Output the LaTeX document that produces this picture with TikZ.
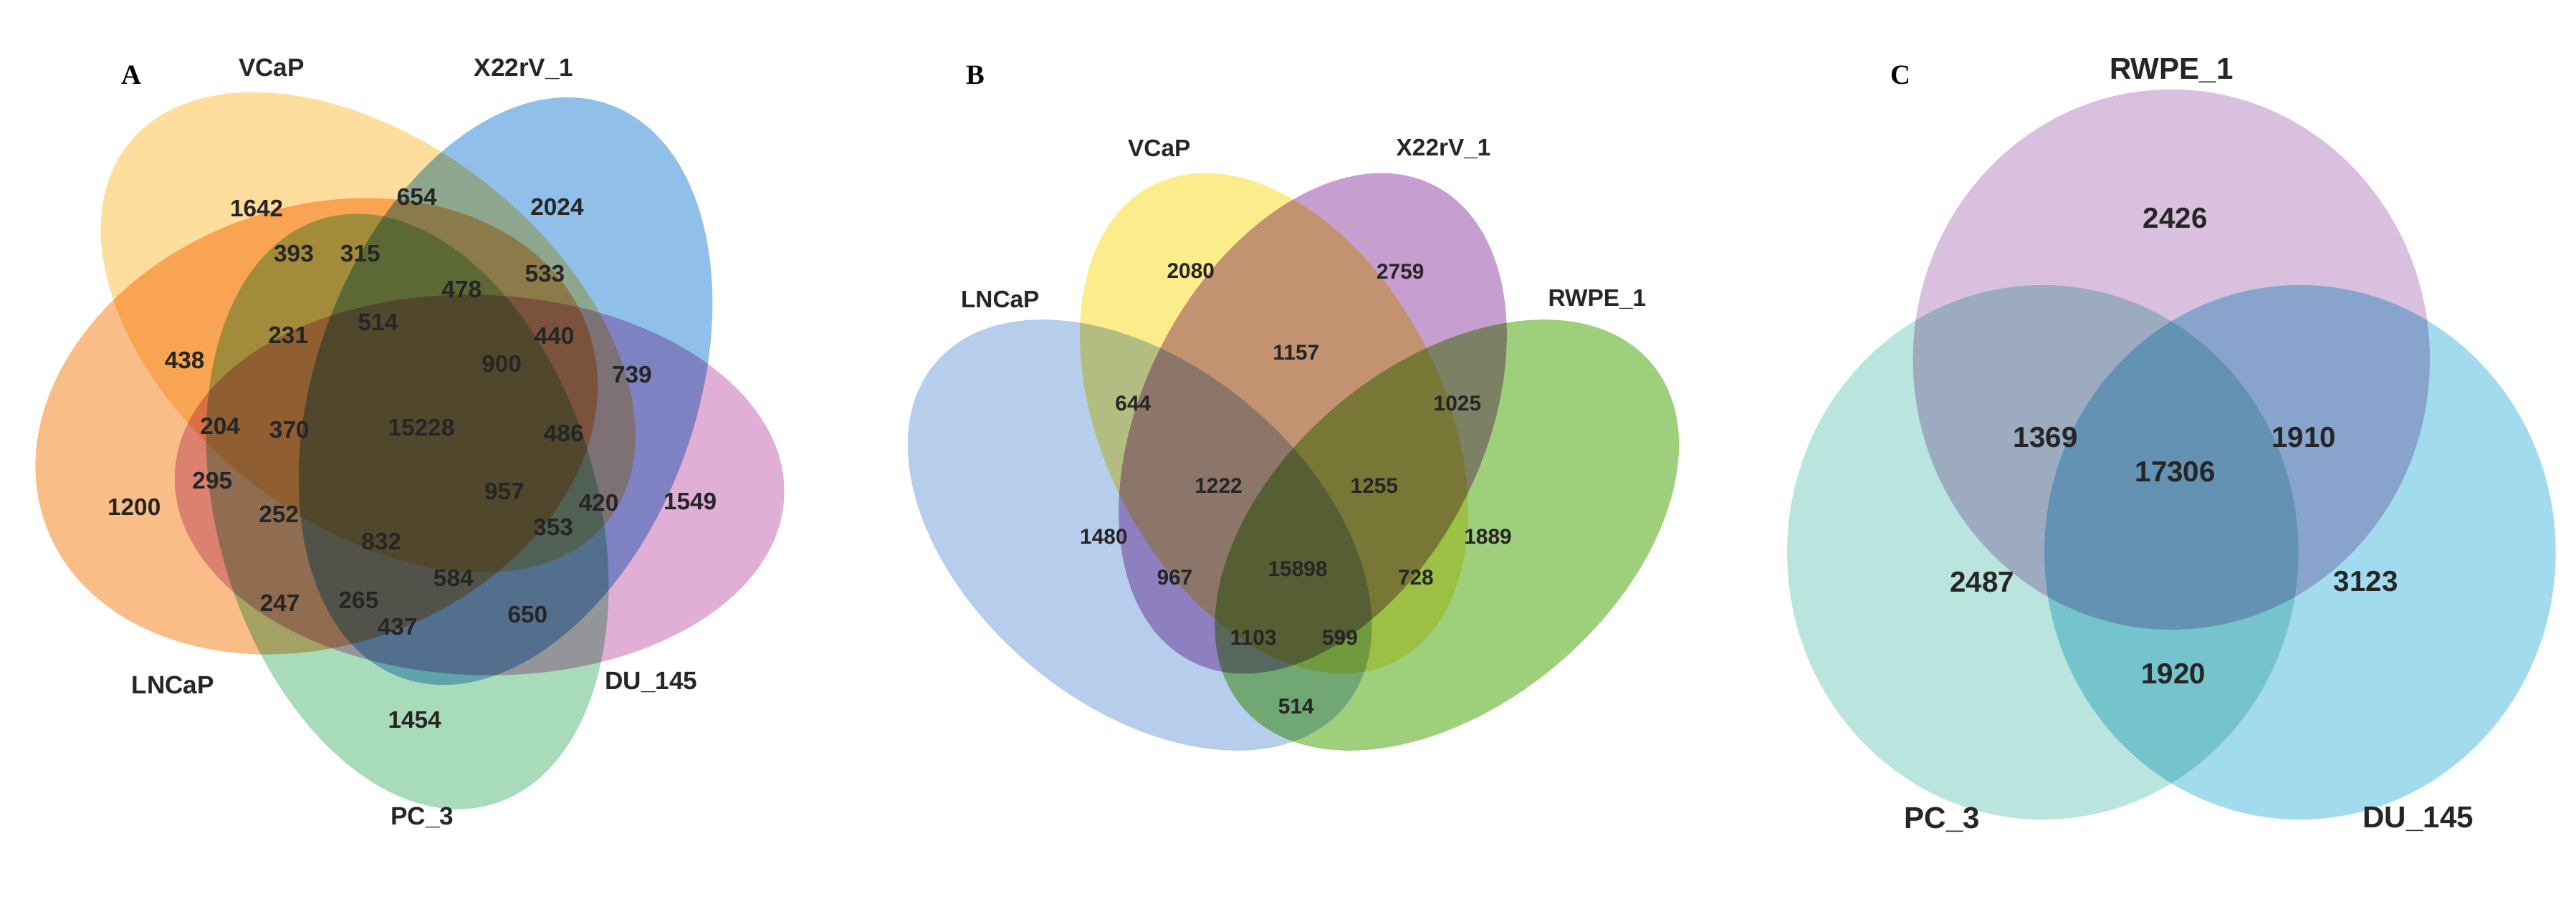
\documentclass[tikz,border=0pt]{standalone}
\usepackage{fontspec}
\setmainfont{Liberation Sans}
\newfontfamily\serifbf{Liberation Serif}
\definecolor{cyel}{RGB}{252,200,90}
\definecolor{cblu}{RGB}{70,150,220}
\definecolor{cpnk}{RGB}{205,120,185}
\definecolor{cgrn}{RGB}{110,195,140}
\definecolor{corg}{RGB}{248,145,55}
\definecolor{bblu}{RGB}{140,175,225}
\definecolor{byel}{RGB}{250,225,70}
\definecolor{bpur}{RGB}{165,100,180}
\definecolor{bgrn}{RGB}{100,180,45}
\definecolor{clil}{RGB}{190,150,200}
\definecolor{ctea}{RGB}{140,210,200}
\definecolor{csky}{RGB}{100,195,225}
\tikzset{
 setA/.style={fill=#1,fill opacity=0.6,blend mode=multiply},
 setB/.style={fill=#1,fill opacity=0.62,blend mode=multiply},
 setC/.style={fill=#1,fill opacity=0.6,blend mode=multiply},
 numA/.style={font=\bfseries\fontsize{9.5}{10}\selectfont,text=black!85},
 labA/.style={font=\bfseries\fontsize{10}{11}\selectfont,text=black!85},
 numB/.style={font=\bfseries\fontsize{8.5}{9}\selectfont,text=black!85},
 labB/.style={font=\bfseries\fontsize{9.5}{10}\selectfont,text=black!85},
 numC/.style={font=\bfseries\fontsize{11.5}{12}\selectfont,text=black!85},
 labC/.style={font=\bfseries\fontsize{12}{13}\selectfont,text=black!85},
 panel/.style={font=\serifbf\bfseries\fontsize{11}{12}\selectfont}
}
\begin{document}
\begin{tikzpicture}
\fill[white] (0,0) rectangle (35.95,12.61);
\useasboundingbox (0,0) rectangle (35.95,12.61);
% ---------- Panel A
\begin{scope}[shift={(0,12.61)},x=0.007742cm,y=0.00804cm]
\path[setA=corg,rotate around={20:(571,-740)}] (571,-740) ellipse [x radius=520,y radius=380];
\path[setA=cyel,rotate around={142:(664,-577)}] (664,-577) ellipse [x radius=550,y radius=330];
\path[setA=cblu,rotate around={70:(912,-679)}] (912,-679) ellipse [x radius=550,y radius=330];
\path[setA=cpnk,rotate around={-2:(865,-842)}] (865,-842) ellipse [x radius=550,y radius=330];
\path[setA=cgrn,rotate around={106:(735,-888)}] (735,-888) ellipse [x radius=550,y radius=330];
\node[panel] (pA) at (237,-130) {A};
\node[labA] (lVCaP) at (490,-118) {VCaP};
\node[labA] (lX22) at (945,-120) {X22rV\_1};
\node[labA] (lLNC) at (312,-1190) {LNCaP};
\node[labA] (lDU) at (1175,-1185) {DU\_145};
\node[labA] (lPC) at (762,-1420) {PC\_3};
\foreach \t/\x/\y [count=\i] in {1642/463/362,654/752/342,2024/1005/360,393/530/440,315/650/440,533/983/475,478/833/503,514/682/560,231/520/582,440/1000/583,438/333/625,900/905/632,739/1140/650,204/397/740,370/522/746,15228/760/742,486/1017/753,295/383/835,957/910/853,420/1080/873,1549/1245/870,1200/242/880,252/503/893,353/998/915,832/688/940,584/818/1003,247/505/1047,265/647/1042,437/717/1088,650/952/1067,1454/748/1250}
  \node[numA] (a\i) at (\x,-\y) {\t};
\end{scope}
% ---------- Panel B
\begin{scope}[shift={(12,12.61)},x=0.007742cm,y=0.00804cm]
\path[setB=bblu,rotate around={-40:(505,-929)}] (505,-929) ellipse [x radius=482,y radius=295];
\path[setB=byel,rotate around={-63:(747,-735)}] (747,-735) ellipse [x radius=482,y radius=295];
\path[setB=bpur,rotate around={63:(817,-735)}] (817,-735) ellipse [x radius=482,y radius=295];
\path[setB=bgrn,rotate around={40:(1059,-929)}] (1059,-929) ellipse [x radius=482,y radius=295];
\node[panel] (pB) at (208,-130) {B};
\node[labB] (bVCaP) at (540,-258) {VCaP};
\node[labB] (bX22) at (1053,-258) {X22rV\_1};
\node[labB] (bLNC) at (253,-520) {LNCaP};
\node[labB] (bRW) at (1330,-520) {RWPE\_1};
\foreach \t/\x/\y [count=\i] in {2080/597/470,2759/975/472,1157/787/612,644/493/700,1025/1078/700,1222/647/843,1255/928/843,1480/440/932,1889/1133/932,967/568/1002,15898/790/988,728/1003/1002,1103/710/1107,599/866/1107,514/787/1227}
  \node[numB] (b\i) at (\x,-\y) {\t};
\end{scope}
% ---------- Panel C
\begin{scope}[shift={(24,12.61)},x=0.00771cm,y=0.00805cm]
\path[setC=clil] (818,-623) ellipse [x radius=468,y radius=468];
\path[setC=ctea] (585,-957) ellipse [x radius=463,y radius=463];
\path[setC=csky] (1051,-957) ellipse [x radius=463,y radius=463];
\node[panel] (pC) at (328,-130) {C};
\node[labC] (cRW) at (818,-122) {RWPE\_1};
\node[labC] (cPC) at (403,-1420) {PC\_3};
\node[labC] (cDU) at (1265,-1420) {DU\_145};
\foreach \t/\x/\y [count=\i] in {2426/825/378,1369/590/758,1910/1058/758,17306/825/818,2487/475/1008,3123/1170/1008,1920/822/1168}
  \node[numC] (c\i) at (\x,-\y) {\t};
\end{scope}
\end{tikzpicture}
\end{document}
